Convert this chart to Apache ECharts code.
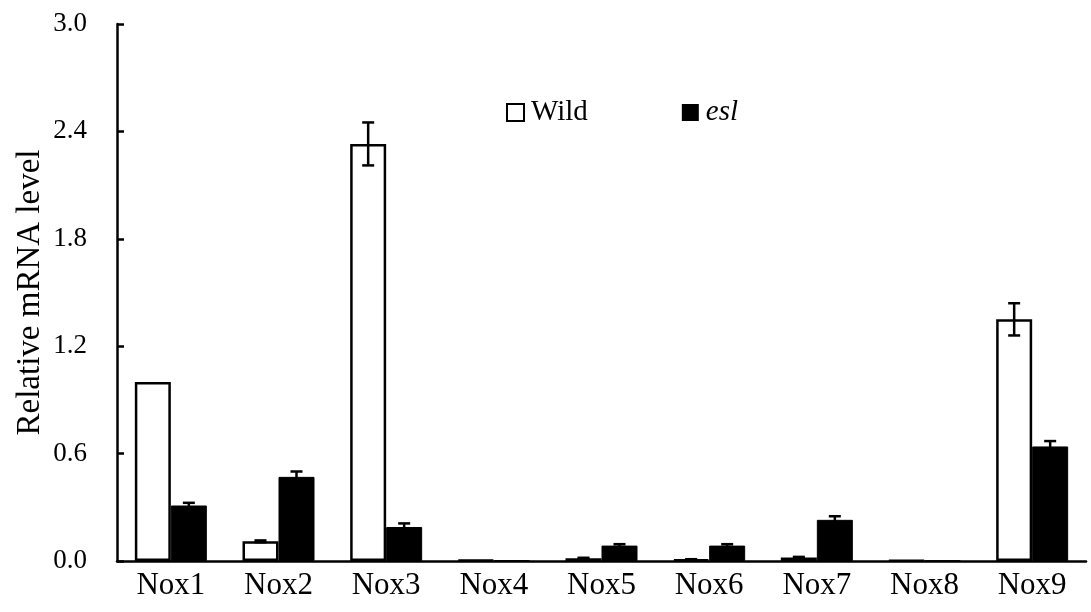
<!DOCTYPE html>
<html>
<head>
<meta charset="utf-8">
<script src="https://cdn.jsdelivr.net/npm/echarts@6/dist/echarts.min.js"></script>
<style>
html,body{margin:0;padding:0;background:#fff;}
#chart{width:1091px;height:612px;}
</style>
</head>
<body>
<div id="chart"></div>
<script>
const categories = ['Nox1','Nox2','Nox3','Nox4','Nox5','Nox6','Nox7','Nox8','Nox9'];
const wildValues = [1.0, 0.11, 2.33, 0.005, 0.015, 0.008, 0.02, 0.004, 1.35];
const wildErrors = [0, 0.005, 0.12, 0, 0.003, 0.002, 0.003, 0, 0.09];
const eslValues = [0.31, 0.47, 0.19, 0.004, 0.086, 0.086, 0.23, 0.003, 0.64];
const eslErrors = [0.015, 0.03, 0.02, 0, 0.008, 0.008, 0.02, 0, 0.03];
const yTicks = [0, 0.6, 1.2, 1.8, 2.4, 3.0];

const FONT = 'Liberation Serif';
const BAR_W = 36;

const errData = [];
categories.forEach((c, i) => {
  errData.push([i, wildValues[i], wildErrors[i], -1]);
  errData.push([i, eslValues[i], eslErrors[i], 1]);
});

function renderErr(params, api) {
  const i = api.value(0), v = api.value(1), e = api.value(2), side = api.value(3);
  if (!e) return;
  const top = api.coord([i, v + e]);
  const bot = api.coord([i, v - e]);
  const cx = top[0] + side * BAR_W / 2;
  const cap = 6;
  const style = {stroke: '#000', lineWidth: 2.5};
  return {
    type: 'group',
    children: [
      {type: 'line', shape: {x1: cx, y1: top[1], x2: cx, y2: bot[1]}, style},
      {type: 'line', shape: {x1: cx - cap, y1: top[1], x2: cx + cap, y2: top[1]}, style},
      {type: 'line', shape: {x1: cx - cap, y1: bot[1], x2: cx + cap, y2: bot[1]}, style}
    ]
  };
}

const chart = echarts.init(document.getElementById('chart'));
chart.setOption({
  animation: false,
  backgroundColor: '#fff',
  textStyle: {fontFamily: FONT, color: '#000'},
  grid: {left: 117, right: 5, top: 24, bottom: 51, containLabel: false, outerBoundsMode: 'none'},
  legend: {
    left: 501, top: 93,
    itemWidth: 17, itemHeight: 17, itemGap: 94,
    textStyle: {fontFamily: FONT, fontSize: 29, lineHeight: 28, color: '#000', padding: [0, 0, 0, 2],
      rich: {i: {fontFamily: FONT, fontSize: 29, lineHeight: 28, fontStyle: 'italic', color: '#000'}}},
    formatter: n => n === 'esl' ? '{i|esl}' : n,
    data: [
      {name: 'Wild', icon: 'rect', itemStyle: {color: '#fff', borderColor: '#000', borderWidth: 2}},
      {name: 'esl', icon: 'rect', itemStyle: {color: '#000', borderColor: '#000', borderWidth: 0}}
    ]
  },
  xAxis: {
    type: 'category',
    data: categories,
    axisLine: {lineStyle: {color: '#000', width: 2.5}},
    axisTick: {show: false},
    axisLabel: {fontFamily: FONT, fontSize: 31, color: '#000', margin: 9}
  },
  yAxis: {
    type: 'value',
    min: 0, max: 3.0, interval: 0.6,
    name: 'Relative mRNA level',
    nameLocation: 'middle',
    nameGap: 70,
    nameMoveOverlap: false,
    nameTextStyle: {fontFamily: FONT, fontSize: 33, color: '#000'},
    axisLine: {show: true, lineStyle: {color: '#000', width: 2.5}},
    axisTick: {show: true, inside: true, length: 7, lineStyle: {color: '#000', width: 2.5}},
    splitLine: {show: false},
    axisLabel: {fontFamily: FONT, fontSize: 27, color: '#000', margin: 30,
      formatter: v => yTicks.includes(+v.toFixed(1)) ? v.toFixed(1) : ''}
  },
  series: [
    {name: 'Wild', type: 'bar', data: wildValues, barWidth: BAR_W, barGap: '0%',
      itemStyle: {color: '#fff', borderColor: '#000', borderWidth: 2.5}},
    {name: 'esl', type: 'bar', data: eslValues, barWidth: BAR_W, barGap: '0%',
      itemStyle: {color: '#000', borderColor: '#000', borderWidth: 1}},
    {name: 'err', type: 'custom', data: errData, renderItem: renderErr, z: 10,
      encode: {x: 0, y: 1}, silent: true}
  ]
});
</script>
</body>
</html>
